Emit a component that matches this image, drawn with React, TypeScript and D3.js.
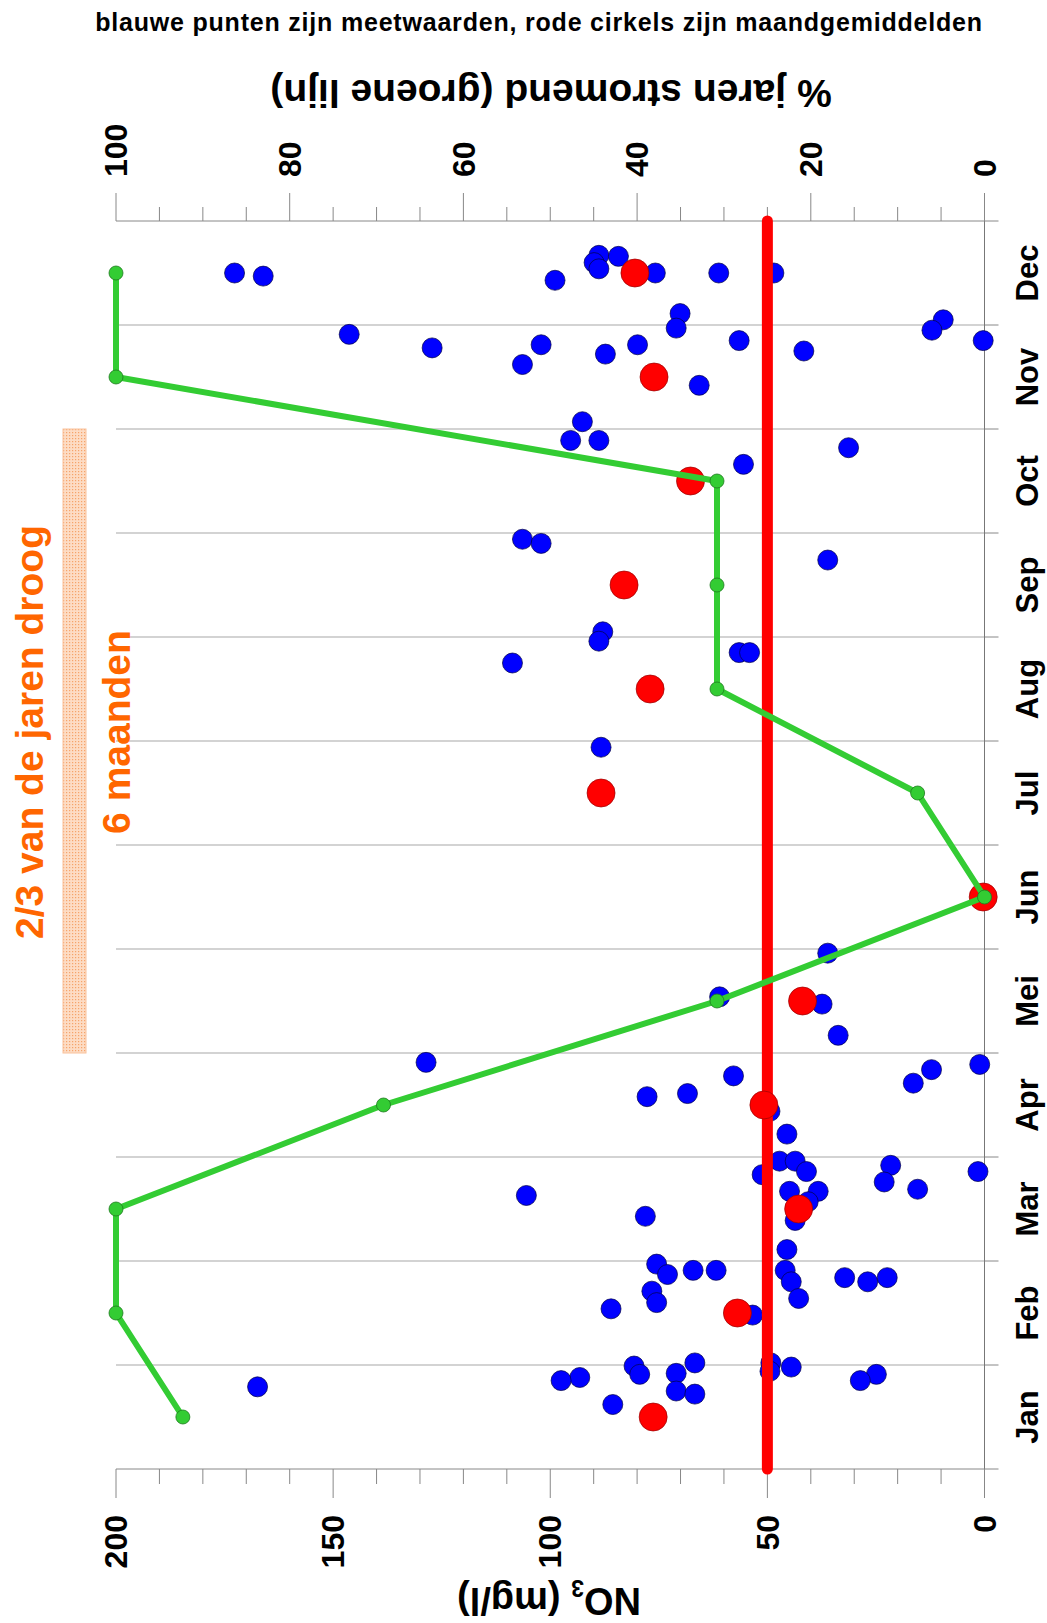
import * as d3 from 'd3';

// months on the vertical axis, read from bottom (Jan) to top (Dec)
const monthLabels = ['Jan', 'Feb', 'Mar', 'Apr', 'Mei', 'Jun', 'Jul', 'Aug', 'Sep', 'Oct', 'Nov', 'Dec'];

// measured NO3 values: time in months since 1 Jan, value in mg/l
const sampleTime = [
  11.5, 11.47, 11.43, 11.67, 11.6, 11.54, 11.66, 11.5, 11.5, 11.5, 11.11, 10.97, 11.05, 10.95, 10.85,
  10.91, 10.78, 10.81, 10.62, 10.72, 10.81, 10.85, 10.75, 10.42, 10.07, 9.89, 9.89, 9.82, 9.66,
  8.94, 8.9, 8.74, 8.05, 7.96, 7.75, 7.85, 7.85, 6.94,
  4.96, 4.54, 4.47, 4.17, 3.91, 3.78, 3.71, 3.84, 3.89, 3.58, 3.61, 3.44, 3.22,
  2.96, 2.96, 2.86, 2.83, 2.92, 2.76, 2.69, 2.86, 2.63, 2.67, 2.67, 2.57, 2.39, 2.43, 2.11,
  1.97, 1.87, 1.91, 1.91, 1.91, 1.8, 1.64, 1.84, 1.8, 1.84, 1.71, 1.6, 1.54, 1.48,
  1.02, 0.94, 0.98, 0.99, 0.91, 0.92, 1.02, 0.75, 0.72, 0.88, 0.85, 0.62, 0.79, 0.91, 0.85,
];
const sampleNO3 = [
  172.7, 166.1, 98.9, 88.8, 89.9, 88.8, 84.3, 75.8, 61.2, 48.5, 70.1, 71.0, 9.5, 12.1, 0.3,
  146.3, 127.2, 102.1, 106.4, 87.3, 79.9, 56.5, 41.6, 65.7, 92.6, 95.3, 88.8, 31.3, 55.5,
  106.4, 102.1, 36.1, 87.9, 88.8, 108.7, 56.5, 54.1, 88.3,
  36.1, 61.0, 37.4, 33.7, 128.6, 57.8, 16.4, 12.2, 1.1, 77.7, 68.4, 49.4, 45.5,
  47.2, 43.6, 41.0, 51.2, 21.6, 23.1, 15.4, 1.5, 105.5, 44.9, 38.3, 40.6, 43.6, 78.1, 45.5,
  75.5, 73.0, 67.1, 61.8, 45.9, 44.5, 42.8, 32.2, 26.9, 22.4, 76.6, 75.5, 86.0, 53.4,
  49.2, 49.4, 44.5, 80.7, 79.4, 71.0, 66.7, 71.0, 66.7, 93.2, 97.5, 85.6, 167.4, 24.9, 28.6,
];

// monthly means (red circles), mg/l
const monthlyMean = [76.3, 56.9, 42.8, 50.8, 41.9, 0.3, 88.3, 77.0, 83.0, 67.7, 76.1, 80.5];
// % of years with flowing water (green line)
const flowingPct = [92.3, 100, 100, 69.2, 30.8, 0, 7.7, 30.8, 30.8, 30.8, 100, 100];

const no3Major = [0, 50, 100, 150, 200];
const pctMajor = [0, 20, 40, 60, 80, 100];
const norm = 50;
const dryMonths = [4, 10];

const FONT = '"Liberation Sans", Arial, sans-serif';

export default function App() {
  const W = 1047;
  const H = 1623;
  const left = 116;
  const right = 984.5;
  const top = 221;
  const bottom = 1469;

  const x = d3.scaleLinear().domain([0, 200]).range([right, left]);
  const xPct = d3.scaleLinear().domain([0, 100]).range([right, left]);
  const y = d3.scaleLinear().domain([0, 12]).range([bottom, top]);

  const no3Minor = d3.range(0, 201, 10);
  const pctMinor = d3.range(0, 101, 5);
  const bounds = d3.range(0, 13);

  const greenLine = d3.line<number>()
    .x((d) => xPct(d))
    .y((_, i) => y(i + 0.5));

  return (
    <div style={{ position: 'absolute', left: 0, top: 0 }}>
      <svg width={W} height={H} style={{ display: 'block', background: '#fff' }}>
        <defs>
          <pattern id="dots" width="3" height="3" patternUnits="userSpaceOnUse">
            <rect width="3" height="3" fill="#fddcc4" />
            <rect width="1.2" height="1.2" fill="#f6a46a" />
          </pattern>
        </defs>

        {/* title */}
        <text x={539} y={31} textAnchor="middle" fontFamily={FONT} fontWeight="bold"
          fontSize={25} letterSpacing={0.8} fill="#000">
          blauwe punten zijn meetwaarden, rode cirkels zijn maandgemiddelden
        </text>

        {/* month gridlines and ticks */}
        {bounds.map((b) => (
          <g key={`g${b}`}>
            {b > 0 && b < 12 && (
              <line x1={left} x2={right} y1={y(b)} y2={y(b)} stroke="#c4c4c4" strokeWidth={1.5} />
            )}
            <line x1={right} x2={right + 14} y1={y(b)} y2={y(b)} stroke="#888" strokeWidth={1} />
          </g>
        ))}
        <line x1={right} x2={right} y1={top} y2={bottom} stroke="#777" strokeWidth={1} />
        {monthLabels.map((m, i) => (
          <text key={m} transform={`translate(1038,${y(i + 0.5)}) rotate(-90)`} textAnchor="middle"
            fontFamily={FONT} fontWeight="bold" fontSize={31} fill="#000">{m}</text>
        ))}

        {/* bottom NO3 axis */}
        <line x1={left} x2={right} y1={bottom} y2={bottom} stroke="#888" strokeWidth={1} />
        {no3Minor.map((v) => (
          <line key={`nm${v}`} x1={x(v)} x2={x(v)} y1={bottom} y2={bottom + (v % 50 === 0 ? 29 : 15)}
            stroke="#888" strokeWidth={1} />
        ))}
        {no3Major.map((v) => (
          <text key={`nl${v}`} transform={`translate(${x(v)},1515) rotate(-90)`} textAnchor="end" dy="0.35em"
            fontFamily={FONT} fontWeight="bold" fontSize={32} fill="#000">{v}</text>
        ))}
        <text transform="translate(549,1588) rotate(180)" textAnchor="middle" fontFamily={FONT}
          fontWeight="bold" fontSize={38} fill="#000">
          NO<tspan fontSize={23} dy={8}>3</tspan><tspan dy={-8}> (mg/l)</tspan>
        </text>

        {/* top % axis */}
        <line x1={left} x2={right} y1={top} y2={top} stroke="#888" strokeWidth={1} />
        {pctMinor.map((v) => (
          <line key={`pm${v}`} x1={xPct(v)} x2={xPct(v)} y1={top} y2={top - (v % 20 === 0 ? 28 : 14)}
            stroke="#888" strokeWidth={1} />
        ))}
        {pctMajor.map((v) => (
          <text key={`pl${v}`} transform={`translate(${xPct(v)},177) rotate(-90)`} textAnchor="start" dy="0.35em"
            fontFamily={FONT} fontWeight="bold" fontSize={32} fill="#000">{v}</text>
        ))}
        <text transform="translate(551,80) rotate(180)" textAnchor="middle" fontFamily={FONT}
          fontWeight="bold" fontSize={39} fill="#000">% jaren stromend (groene lijn)</text>

        {/* dry period annotation */}
        <rect x={63} width={23} y={y(dryMonths[1])} height={y(dryMonths[0]) - y(dryMonths[1])}
          fill="url(#dots)" stroke="#f9c29c" strokeWidth={1} />
        <text transform={`translate(43,${(y(dryMonths[0]) + y(dryMonths[1])) / 2 - 9}) rotate(-90)`}
          textAnchor="middle" fontFamily={FONT} fontWeight="bold" fontSize={39} fill="#ff6600">
          2/3 van de jaren droog
        </text>
        <text transform={`translate(130,${(y(dryMonths[0]) + y(dryMonths[1])) / 2 - 9}) rotate(-90)`}
          textAnchor="middle" fontFamily={FONT} fontWeight="bold" fontSize={39} fill="#ff6600">
          6 maanden
        </text>

        {/* measurements */}
        {sampleNO3.map((v, i) => (
          <circle key={`s${i}`} cx={x(v)} cy={y(sampleTime[i])} r={10} fill="#0000ff"
            stroke="#000044" strokeWidth={0.7} />
        ))}

        {/* 50 mg/l norm */}
        <line x1={x(norm)} x2={x(norm)} y1={top} y2={bottom} stroke="#ff0000" strokeWidth={11}
          strokeLinecap="round" />

        {/* monthly means */}
        {monthlyMean.map((v, i) => (
          <circle key={`m${i}`} cx={x(v)} cy={y(i + 0.5)} r={14} fill="#ff0000" stroke="#990000"
            strokeWidth={0.7} />
        ))}

        {/* flowing years */}
        <path d={greenLine(flowingPct) ?? ''} fill="none" stroke="#33cc33" strokeWidth={6}
          strokeLinejoin="round" />
        {flowingPct.map((v, i) => (
          <circle key={`f${i}`} cx={xPct(v)} cy={y(i + 0.5)} r={7} fill="#33cc33" stroke="#1e7a1e"
            strokeWidth={0.8} />
        ))}
      </svg>
    </div>
  );
}
